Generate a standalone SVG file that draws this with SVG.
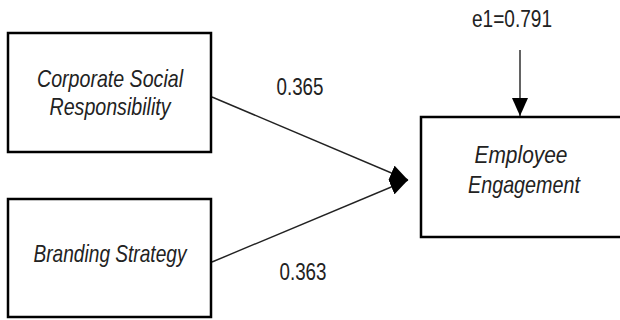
<svg xmlns="http://www.w3.org/2000/svg" width="620" height="320" viewBox="0 0 620 320">
<defs>
<style>
.box{fill:#fff;stroke:#000;stroke-width:2.5}
.t{font-family:"Liberation Sans",Arial,sans-serif;font-size:24px;fill:#222;text-anchor:middle}
.i{font-style:italic}
.c{stroke:#222;stroke-width:1.4;fill:none}
</style>
<marker id="ah" markerUnits="userSpaceOnUse" markerWidth="20" markerHeight="16" refX="18" refY="8" orient="auto">
<path d="M0,0 L18,8 L0,16 Z" fill="#000"/>
</marker>
</defs>
<rect width="620" height="320" fill="#fff"/>
<g id="connectors">
<line class="c" x1="212" y1="97" x2="408" y2="180" marker-end="url(#ah)"/>
<line class="c" x1="212" y1="262" x2="408" y2="180" marker-end="url(#ah)"/>
<line class="c" x1="520" y1="50" x2="520" y2="116" marker-end="url(#ah)"/>
</g>
<g id="csr">
<rect class="box" x="8" y="33" width="203" height="119"/>
<text class="t i" x="110" y="87" textLength="146" lengthAdjust="spacingAndGlyphs">Corporate Social</text>
<text class="t i" x="110" y="115" textLength="121" lengthAdjust="spacingAndGlyphs">Responsibility</text>
</g>
<g id="bs">
<rect class="box" x="8" y="199" width="203" height="118"/>
<text class="t i" x="110" y="262" textLength="153" lengthAdjust="spacingAndGlyphs">Branding Strategy</text>
</g>
<g id="ee">
<rect class="box" x="421" y="117" width="210" height="120"/>
<text class="t i" x="521" y="163" textLength="93" lengthAdjust="spacingAndGlyphs">Employee</text>
<text class="t i" x="524" y="193" textLength="112" lengthAdjust="spacingAndGlyphs">Engagement</text>
</g>
<g id="labels">
<text class="t" x="512" y="27" textLength="80" lengthAdjust="spacingAndGlyphs">e1=0.791</text>
<text class="t" x="300" y="95" textLength="47" lengthAdjust="spacingAndGlyphs">0.365</text>
<text class="t" x="303" y="280" textLength="47" lengthAdjust="spacingAndGlyphs">0.363</text>
</g>
</svg>
